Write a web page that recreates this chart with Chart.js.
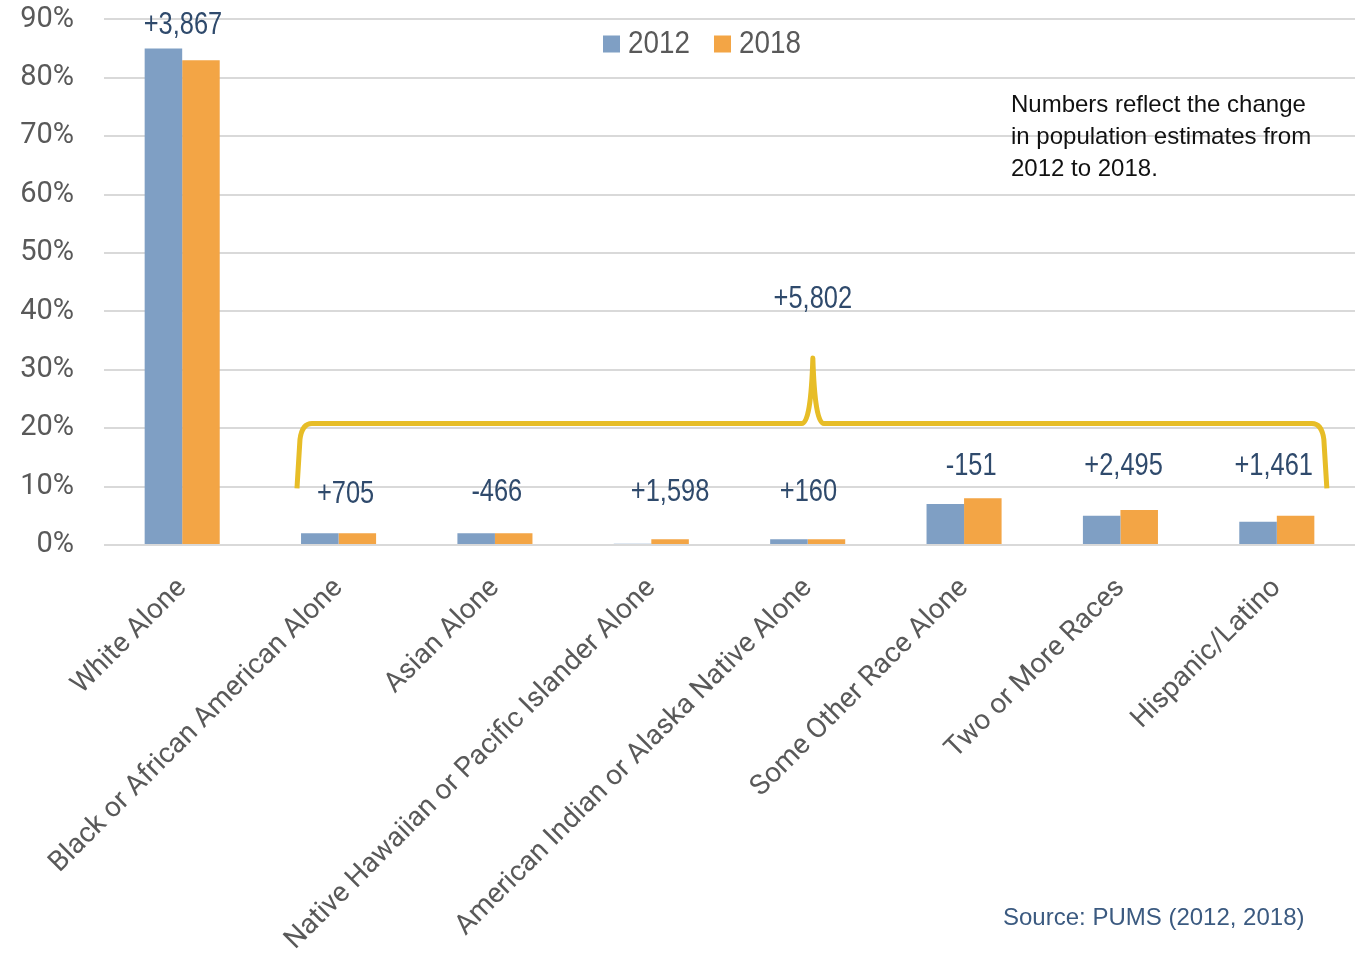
<!DOCTYPE html>
<html>
<head>
<meta charset="utf-8">
<script src="https://cdn.jsdelivr.net/npm/chart.js@4.4.1/dist/chart.umd.min.js"></script>
<style>
  html, body { margin: 0; padding: 0; background: #ffffff; overflow: hidden; }
  #wrap { width: 1362px; height: 955px; position: relative; overflow: hidden; }
  #inner { position: absolute; left: 0; top: -28px; width: 1362px; height: 983px; }
</style>
</head>
<body>
<div id="wrap"><div id="inner"><canvas id="c"></canvas></div></div>
<script>
const categories = [
  'White Alone',
  'Black or African American Alone',
  'Asian Alone',
  'Native Hawaiian or Pacific Islander Alone',
  'American Indian or Alaska Native Alone',
  'Some Other Race Alone',
  'Two or More Races',
  'Hispanic/Latino'
];
const seriesNames = ['2012', '2018'];
const values2012 = [85, 2, 2, 0.2, 1, 7, 5, 4];
const values2018 = [83, 2, 2, 1, 1, 8, 6, 5];
const changeLabels = ['+3,867', '+705', '-466', '+1,598', '+160', '-151', '+2,495', '+1,461'];
const groupChangeLabel = '+5,802';
const yTickValues = [0, 10, 20, 30, 40, 50, 60, 70, 80, 90];
const noteLines = ['Numbers reflect the change', 'in population estimates from', '2012 to 2018.'];
const sourceText = 'Source: PUMS (2012, 2018)';

const BLUE = '#7f9fc4';
const ORANGE = '#f3a545';
const GOLD = '#e7bd27';
const LABEL_BLUE = '#2f4a6c';
const SHIFT = 28; // canvas is offset upward by this many pixels

function condText(ctx, text, x, y, size, color, sx, align) {
  ctx.save();
  ctx.translate(x, y);
  ctx.scale(sx, 1);
  ctx.font = size + 'px "Liberation Sans", Arial, sans-serif';
  ctx.fillStyle = color;
  ctx.textAlign = align || 'center';
  ctx.textBaseline = 'middle';
  ctx.fillText(text, 0, 0);
  ctx.restore();
}

const annotations = {
  id: 'annotations',
  afterDatasetsDraw(chart, args, opts) {
    const ctx = chart.ctx;
    const xs = chart.scales.x;
    const ys = chart.scales.y;
    const cx = (v) => {
      const i = Math.floor(v);
      const f = v - i;
      const a = xs.getPixelForValue(i);
      const b = xs.getPixelForValue(i + 1);
      return a + (b - a) * f;
    };

    changeLabels.forEach((t, i) => {
      condText(ctx, t, cx(i + opts.labelShift[i]), ys.getPixelForValue(opts.labelLevels[i]), 31, LABEL_BLUE, 0.82, 'center');
    });

    const xL = cx(opts.bracket.left), xR = cx(opts.bracket.right), xP = cx(opts.bracket.peak);
    const yB = ys.getPixelForValue(opts.bracket.bottom);
    const yH = ys.getPixelForValue(opts.bracket.level);
    const yP = ys.getPixelForValue(opts.bracket.top);
    ctx.save();
    ctx.strokeStyle = GOLD;
    ctx.lineWidth = 5;
    ctx.lineJoin = 'round';
    ctx.lineCap = 'butt';
    ctx.beginPath();
    ctx.moveTo(xL, yB);
    ctx.lineTo(xL + 3, yH + 16);
    ctx.quadraticCurveTo(xL + 5, yH, xL + 15, yH);
    ctx.lineTo(xP - 11, yH);
    ctx.quadraticCurveTo(xP - 2, yH, xP, yP);
    ctx.quadraticCurveTo(xP + 2, yH, xP + 11, yH);
    ctx.lineTo(xR - 15, yH);
    ctx.quadraticCurveTo(xR - 5, yH, xR - 3, yH + 16);
    ctx.lineTo(xR, yB);
    ctx.stroke();
    ctx.restore();

    condText(ctx, groupChangeLabel, xP, ys.getPixelForValue(opts.groupLabelLevel), 31, LABEL_BLUE, 0.82, 'center');

    const legendX = 603, legendY = 44 + SHIFT;
    let x = legendX;
    chart.data.datasets.forEach((ds) => {
      ctx.fillStyle = ds.backgroundColor;
      ctx.fillRect(x, legendY - 8.5, 17, 17);
      condText(ctx, ds.label, x + 25, legendY, 32, '#595959', 0.87, 'left');
      x += 111;
    });

    ctx.save();
    ctx.font = '24px "Liberation Sans", Arial, sans-serif';
    ctx.fillStyle = '#111111';
    ctx.textAlign = 'left';
    ctx.textBaseline = 'middle';
    noteLines.forEach((l, i) => ctx.fillText(l, 1011, 105 + SHIFT + i * 32));
    ctx.fillStyle = '#3b5a80';
    ctx.fillText(sourceText, 1003, 918 + SHIFT);
    ctx.restore();
  }
};

new Chart(document.getElementById('c'), {
  type: 'bar',
  data: {
    labels: categories,
    datasets: [
      { label: seriesNames[0], data: values2012, backgroundColor: BLUE },
      { label: seriesNames[1], data: values2018, backgroundColor: ORANGE }
    ]
  },
  options: {
    responsive: true,
    maintainAspectRatio: false,
    animation: false,
    devicePixelRatio: 1,
    layout: { padding: { top: 0, right: 7, left: 0, bottom: 0 } },
    datasets: { bar: { barPercentage: 1.0, categoryPercentage: 0.48, borderWidth: 0 } },
    plugins: {
      legend: { display: false },
      tooltip: { enabled: false },
      annotations: {
        labelLevels: [89, 8.7, 9.05, 9.05, 9.0, 13.5, 13.5, 13.5],
        labelShift: [0.005, 0.045, 0.012, 0.12, 0.005, 0.045, 0.02, -0.02],
        groupLabelLevel: 42.0,
        bracket: { left: 0.734, right: 7.32, peak: 4.033, bottom: 9.7, level: 20.8, top: 32.0 }
      }
    },
    scales: {
      x: {
        grid: { display: false, drawTicks: false },
        border: { display: false },
        ticks: {
          autoSkip: false,
          minRotation: 45,
          maxRotation: 45,
          padding: 27,
          color: '#595959',
          font: { family: 'Roboto', size: 28 }
        },
        afterFit(scale) { scale.height = 410; }
      },
      y: {
        min: 0,
        max: 90,
        afterBuildTicks(scale) { scale.ticks = yTickValues.map(v => ({ value: v })); },
        grid: { color: '#d9d9d9', lineWidth: 2, drawTicks: false },
        border: { display: false },
        ticks: {
          padding: 30,
          color: '#595959',
          font: { family: 'Roboto', size: 29 },
          callback: (v) => v + '%'
        },
        afterFit(scale) { scale.width = 104; }
      }
    }
  },
  plugins: [annotations]
});
</script>
</body>
</html>
